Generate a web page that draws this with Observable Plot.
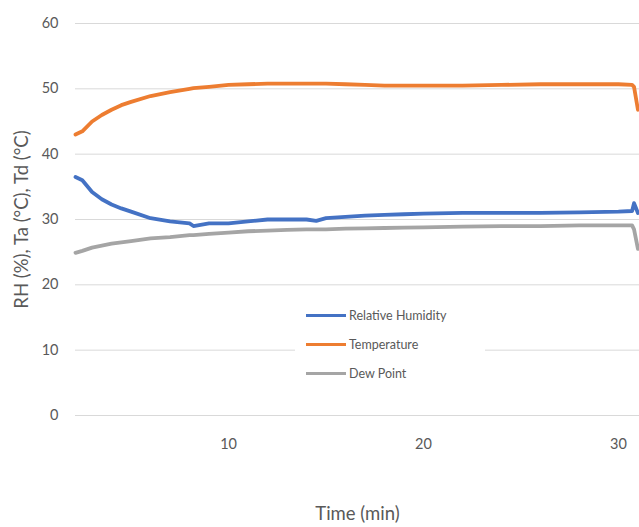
<!DOCTYPE html>
<html>
<head>
<meta charset="utf-8">
<script src="https://cdn.jsdelivr.net/npm/d3@7"></script>
<script src="https://cdn.jsdelivr.net/npm/@observablehq/plot@0.6"></script>
<style>
  body { margin: 0; background: #fff; }
  #wrap { position: relative; width: 639px; height: 527px; }
  #legend { position: absolute; left: 295px; top: 302px; width: 190px; height: 84px; background: #fff;
            font-family: Lato, "Open Sans", sans-serif; font-size: 12.5px; color: #595959; }
  .row { position: absolute; left: 11px; display: flex; align-items: center; }
  .sw { width: 40px; height: 3.5px; margin-right: 3px; }
</style>
</head>
<body>
<div id="wrap"></div>
<script>
const time = [2.15, 2.5, 3.0, 3.5, 4, 4.5, 5, 6, 7, 8, 8.2, 9, 10, 11, 12, 13, 14, 14.5, 15, 16, 17, 18, 19, 20, 22, 24, 26, 28, 30, 30.7, 30.8, 31.0];
const rh   = [36.5, 36.0, 34.2, 33.1, 32.3, 31.7, 31.2, 30.2, 29.7, 29.4, 29.0, 29.4, 29.4, 29.7, 30.0, 30.0, 30.0, 29.8, 30.2, 30.4, 30.6, 30.7, 30.8, 30.9, 31.0, 31.0, 31.0, 31.1, 31.2, 31.3, 32.5, 31.0];
const ta   = [43.0, 43.5, 45.0, 46.0, 46.8, 47.5, 48.0, 48.9, 49.5, 50.0, 50.1, 50.3, 50.6, 50.7, 50.8, 50.8, 50.8, 50.8, 50.8, 50.7, 50.6, 50.5, 50.5, 50.5, 50.5, 50.6, 50.7, 50.7, 50.7, 50.6, 50.3, 46.8];
const td   = [24.9, 25.2, 25.7, 26.0, 26.3, 26.5, 26.7, 27.1, 27.3, 27.6, 27.6, 27.8, 28.0, 28.2, 28.3, 28.4, 28.5, 28.5, 28.5, 28.6, 28.65, 28.7, 28.75, 28.8, 28.9, 29.0, 29.0, 29.1, 29.1, 29.1, 28.5, 25.5];
const seriesNames = ["Relative Humidity", "Temperature", "Dew Point"];
const seriesColors = ["#4472C4", "#ED7D31", "#A5A5A5"];
const yTicks = [0, 10, 20, 30, 40, 50, 60];
const xTicks = [10, 20, 30];

const values = [rh, ta, td];
const data = [];
seriesNames.forEach((s, i) => time.forEach((t, j) => data.push({series: s, t, v: values[i][j]})));

const chart = Plot.plot({
  width: 639, height: 527,
  marginLeft: 75, marginRight: 0, marginTop: 23, marginBottom: 112,
  style: {fontFamily: "Lato, 'Open Sans', sans-serif", fontSize: "14.5px", color: "#595959", background: "#fff"},
  x: {domain: [2.15, 31.08]},
  y: {domain: [0, 60]},
  color: {domain: seriesNames, range: seriesColors},
  marks: [
    Plot.gridY(yTicks, {stroke: "#D9D9D9", strokeOpacity: 1, strokeWidth: 1}),
    Plot.axisY(yTicks, {tickSize: 0, tickPadding: 17, fontSize: 14.5, label: null}),
    Plot.axisY({tickSize: 0, ticks: [], label: "RH (%), Ta (°C), Td (°C)", labelAnchor: "center", labelArrow: "none", labelOffset: 61, fontSize: 18.5, dy: -4}),
    Plot.axisX(xTicks, {tickSize: 0, tickPadding: 23, fontSize: 14.5, label: null}),
    Plot.axisX({tickSize: 0, ticks: [], label: "Time (min)", labelAnchor: "center", labelArrow: "none", labelOffset: 104, fontSize: 18.5}),
    Plot.line(data, {x: "t", y: "v", z: "series", stroke: "series", strokeWidth: 3.8, curve: "linear"})
  ]
});
document.getElementById("wrap").appendChild(chart);

const legend = document.createElement("div");
legend.id = "legend";
seriesNames.forEach((s, i) => {
  const row = document.createElement("div");
  row.className = "row";
  row.style.top = (6 + i * 29) + "px";
  const sw = document.createElement("div");
  sw.className = "sw";
  sw.style.background = seriesColors[i];
  const lab = document.createElement("span");
  lab.textContent = s;
  row.appendChild(sw); row.appendChild(lab);
  legend.appendChild(row);
});
document.getElementById("wrap").appendChild(legend);
</script>
</body>
</html>
